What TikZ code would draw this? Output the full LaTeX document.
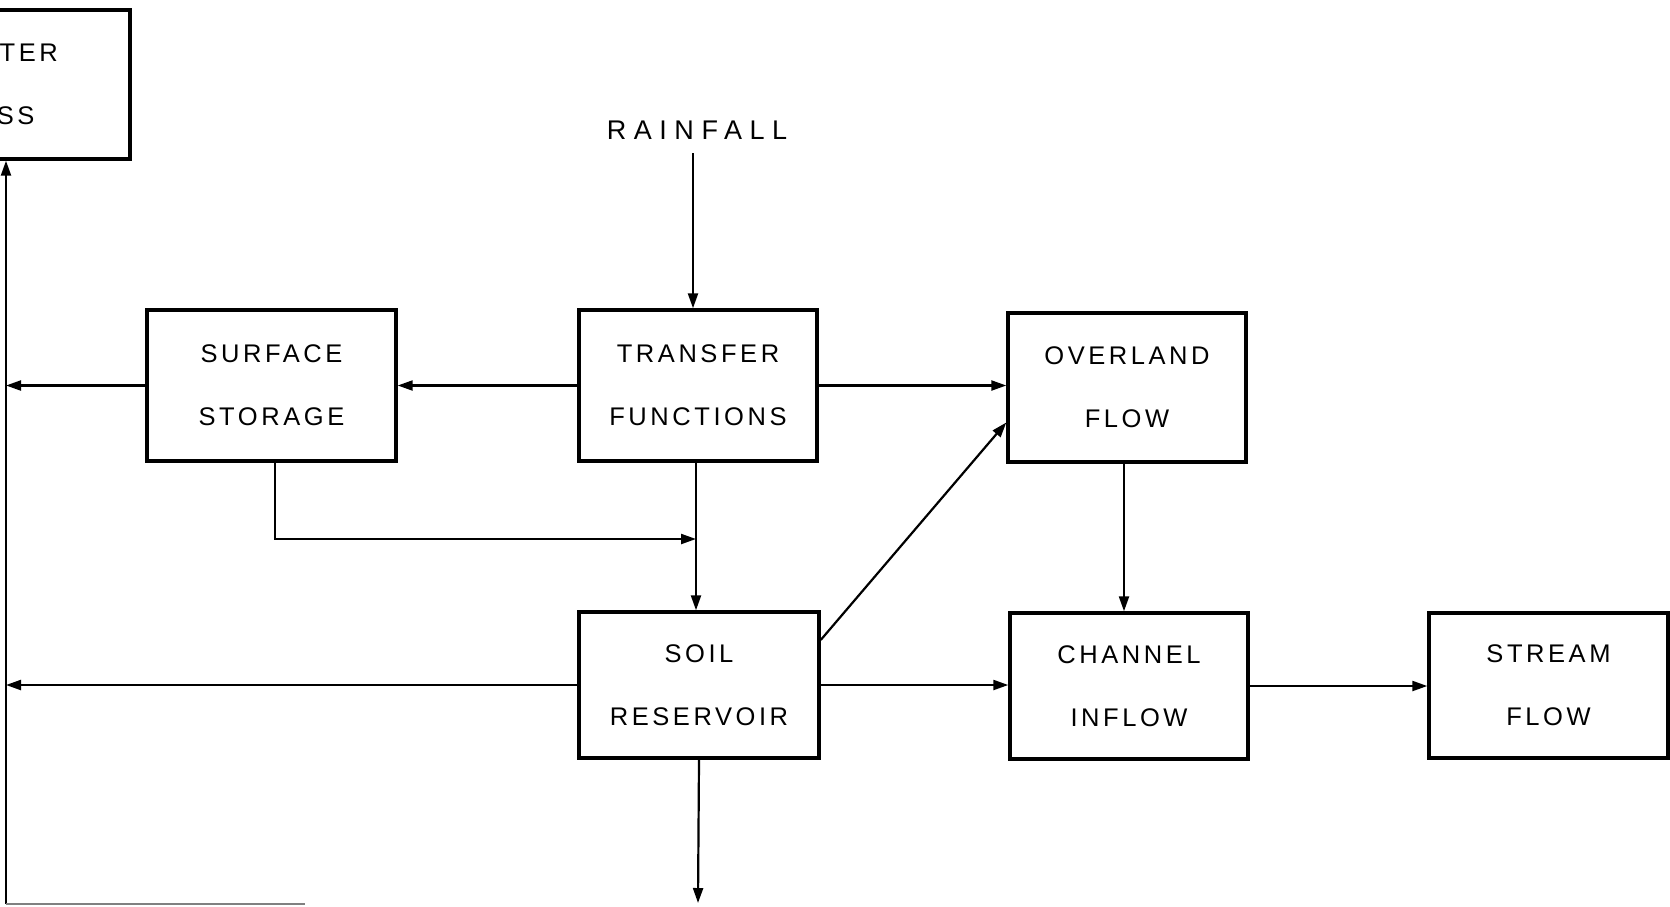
\documentclass[tikz,border=0pt]{standalone}
\usepackage{fontspec}
\setmainfont[LetterSpace=14]{Liberation Sans}
\usetikzlibrary{arrows.meta,calc}
\begin{document}
\begin{tikzpicture}[x=1pt,y=-1pt,
  box/.style={draw,line width=3.4pt,minimum width=#1,align=center,inner sep=0pt,
    font=\fontsize{25.5}{63}\selectfont},
  lbl/.style={font=\fontsize{27}{30}\selectfont\addfontfeature{LetterSpace=28},inner sep=0pt},
  arr/.style={line width=2.2pt,-{Triangle[length=15pt,width=10pt]}},
  ln/.style={line width=2.2pt}]
\useasboundingbox (0,0) rectangle (1670,906);
\clip (0,0) rectangle (1670,906);
% boxes
\node[box=248pt,minimum height=149pt] (wl) at (6,84.5) {WATER\\LOSS\kern22pt};
\node[box=249pt,minimum height=151pt] (ss) at (271.5,385.5) {SURFACE\\STORAGE};
\node[box=238pt,minimum height=151pt] (tf) at (698,385.5) {TRANSFER\\FUNCTIONS};
\node[box=238pt,minimum height=149pt] (of) at (1127,387.5) {OVERLAND\\FLOW};
\node[box=240pt,minimum height=146pt] (sr) at (699,685) {SOIL\\RESERVOIR};
\node[box=238pt,minimum height=146pt] (ci) at (1129,686) {CHANNEL\\INFLOW};
\node[box=239pt,minimum height=145pt] (sf) at (1548.5,685.5) {STREAM\\FLOW};
\node[lbl] (rain) at (697,130) {RAINFALL};
% coordinates
\coordinate (trunkbot) at (6,904);
\coordinate (join) at (696,539);
\coordinate (sout) at (698,903);
\coordinate (bline) at (305,904);
% connectors
\draw[arr] ([xshift=-4pt,yshift=-14pt]rain.south) -- ([xshift=-4pt]rain.south |- tf.north);
\draw[arr] (tf.west) -- (ss.east);
\draw[arr] (tf.east) -- (tf.east -| of.west);
\draw[arr] (ss.west) -- (ss.west -| wl.south);
\draw[arr] ([xshift=3.5pt]ss.south) |- (join);
\draw[arr] (tf.south -| join) -- (sr.north -| join);
\draw[arr] ([yshift=45pt]sr.east) -- ([yshift=-35pt]of.west);
\draw[arr] (sr.west) -- (sr.west -| wl.south);
\draw[arr] (sr.east) -- (sr.east -| ci.west);
\draw[arr] (ci.east) -- (ci.east -| sf.west);
\draw[arr] ([xshift=-3pt]of.south) -- ([xshift=-3pt]of.south |- ci.north);
\draw[arr] (sr.south) -- (sout);
\draw[arr] (trunkbot) -- (wl.south);
\draw[line width=1.4pt,gray] (trunkbot) -- (bline);
\end{tikzpicture}
\end{document}
